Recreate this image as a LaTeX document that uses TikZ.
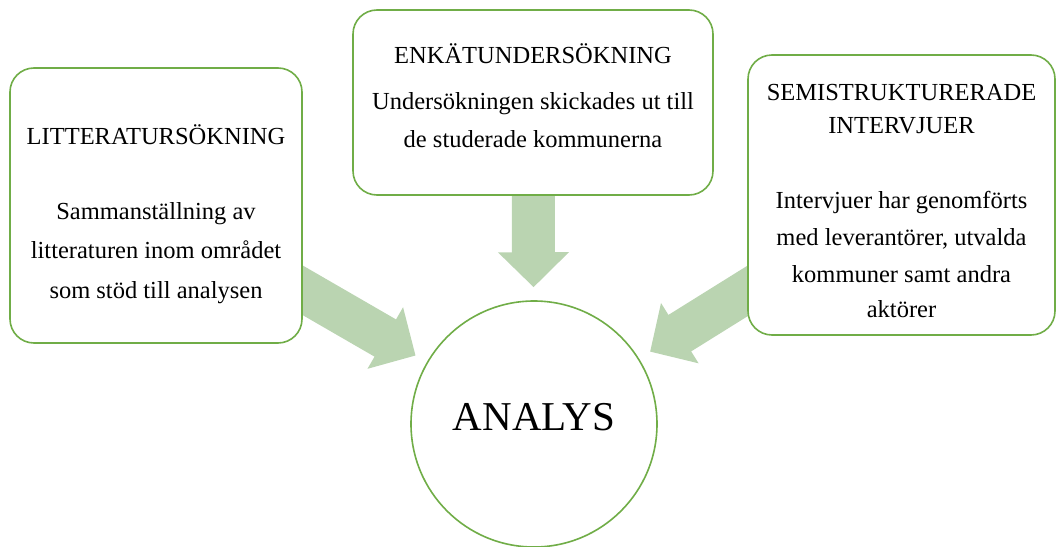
\documentclass[tikz,border=0pt]{standalone}
\usepackage{fontspec}
\setmainfont{Liberation Serif}
\usetikzlibrary{arrows.meta,backgrounds}
\definecolor{framegreen}{HTML}{70AD47}
\definecolor{arrowgreen}{HTML}{BAD4B1}
\newcommand{\headfont}{\fontsize{24.5}{33}\selectfont}
\newcommand{\bodyfont}{\fontsize{24.5}{38}\selectfont}
\tikzset{
  stepbox/.style   = {draw=framegreen, line width=1.6pt, rounded corners=24pt,
                      fill=white, align=center, inner sep=0pt, font=\bodyfont},
  hubcircle/.style = {circle, draw=framegreen, line width=1.6pt, fill=white,
                      minimum size=246pt, inner sep=0pt, text depth=14pt,
                      font=\fontsize{41}{48}\selectfont},
  fatarrow/.style  = {draw=arrowgreen, line width=43pt,
                      -{Triangle[length=35pt,width=69pt]}, shorten >=13pt},
}

\begin{document}
\begin{tikzpicture}[x=1pt,y=-1pt]
  \useasboundingbox (0,0) rectangle (1057,546);

  % the three sources (the struts move the text a little)
  \node[stepbox, minimum width=292pt, minimum height=275pt] (lit) at (156,205.5)
       {{\headfont\rule{0pt}{37pt}LITTERATURSÖKNING}\\[37pt]
        Sammanställning av\\[1.5pt] litteraturen inom området\\[1.5pt] som stöd till analysen};
  \node[stepbox, minimum width=360pt, minimum height=185pt] (enk) at (533,102.5)
       {{\headfont ENKÄTUNDERSÖKNING}\\[8pt]
        Undersökningen skickades ut till\\ de studerade kommunerna\rule[-13pt]{0pt}{1pt}};
  \node[stepbox, minimum width=307pt, minimum height=280pt] (semi) at (901.5,195)
       {{\headfont\rule{0pt}{29pt}SEMISTRUKTURERADE}\\[-5pt] {\headfont INTERVJUER}\\[37pt]
        Intervjuer har genomförts\\[-1pt] med leverantörer, utvalda\\[-1pt]
        kommuner samt andra\\[-3pt] aktörer};

  \node[hubcircle] (analys) at (534,424) {ANALYS};

  % block arrows behind the boxes
  \begin{scope}[on background layer]
    \draw[fatarrow] (lit.center) -- (analys);
    \draw[fatarrow] (enk.center) -- (analys);
    \draw[fatarrow] (semi.center) -- (analys);
  \end{scope}
\end{tikzpicture}
\end{document}
